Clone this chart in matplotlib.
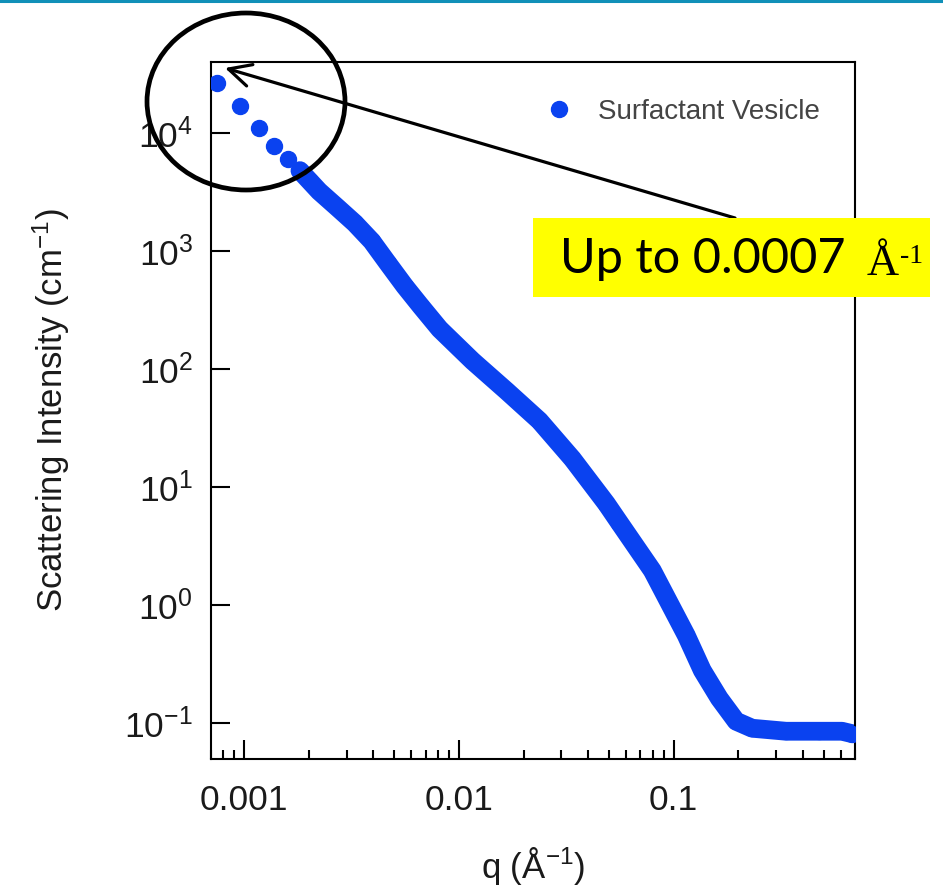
import numpy as np
import matplotlib
matplotlib.use('Agg')
import matplotlib.pyplot as plt
from matplotlib.patches import Ellipse, Rectangle
from matplotlib.lines import Line2D
from matplotlib.ticker import LogLocator, NullLocator, NullFormatter, FixedLocator, FixedFormatter

plt.rcParams['font.family'] = ['Liberation Sans', 'DejaVu Sans']
plt.rcParams['mathtext.default'] = 'regular'

# q (1/A) and intensity (1/cm)
q = [0.000744, 0.000955, 0.00117, 0.001379, 0.001603, 0.001817, 0.00202, 0.002234,
     0.002729, 0.003273, 0.003926, 0.00466, 0.00559, 0.006636, 0.008133, 0.01158,
     0.01667, 0.02373, 0.03379, 0.04864, 0.0559, 0.0796, 0.1146, 0.136, 0.1632,
     0.1957, 0.2323, 0.3342, 0.4766, 0.609, 0.6776]
intensity = [26800, 16800, 11000, 7820, 6030, 4810, 3910, 3210,
             2323, 1725, 1215, 792, 506, 343, 219, 117.5,
             65.5, 36.6, 17.4, 7.27, 5.02, 1.972, 0.5566, 0.2817, 0.1633,
             0.1044, 0.0911, 0.0859, 0.0859, 0.0859, 0.082]
dense_from = 5   # from here on the points overlap into a band

xticks = [0.001, 0.01, 0.1]
xticklabels = ['0.001', '0.01', '0.1']

blue = '#0a42f0'
W, H = 943, 889

fig = plt.figure(figsize=(W / 100, H / 100), dpi=100)
ax = fig.add_axes([211 / W, 1 - 759 / H, (855 - 211) / W, (759 - 62) / H])

ax.plot(q[dense_from:], intensity[dense_from:], color=blue, lw=13.5,
        solid_capstyle='round', solid_joinstyle='round', zorder=2)
ax.plot(q, intensity, 'o', color=blue, ms=11.5, mec=blue, zorder=3,
        label='Surfactant Vesicle')

ax.set_xscale('log')
ax.set_yscale('log')
ax.set_xlim(0.0007, 0.7)
ax.set_ylim(0.05, 4e4)

ax.xaxis.set_major_locator(FixedLocator(xticks))
ax.xaxis.set_major_formatter(FixedFormatter(xticklabels))
ax.xaxis.set_minor_locator(LogLocator(base=10, subs=np.arange(2, 10)))
ax.xaxis.set_minor_formatter(NullFormatter())
ax.yaxis.set_minor_locator(NullLocator())

ax.tick_params(which='major', direction='in', length=13.5, width=1.5,
               labelsize=25.5, labelcolor='#1a1a1a', top=False, right=False)
ax.tick_params(which='minor', direction='in', length=6.5, width=1.5,
               top=False, right=False)
ax.tick_params(axis='x', which='major', pad=18)
ax.tick_params(axis='y', which='major', pad=13)
for s in ax.spines.values():
    s.set_linewidth(1.5)

ax.set_xlabel('q (Å$^{-1}$)', fontsize=25, color='#1a1a1a', labelpad=20)
ax.set_ylabel('Scattering Intensity (cm$^{-1}$)', fontsize=25, color='#1a1a1a', labelpad=38)

ax.legend(loc='center left', bbox_to_anchor=(531 / W, 1 - 112 / H),
          bbox_transform=fig.transFigure, frameon=False, borderpad=0,
          handlelength=1.0, handletextpad=0.9, fontsize=20,
          labelcolor='#444444', numpoints=1)

# slide decorations: top rule, circle, arrow and yellow note
fig.add_artist(Line2D([0, 1], [1 - 1.2 / H, 1 - 1.2 / H], color='#1090b8', lw=2.2,
                      transform=fig.transFigure))
fig.add_artist(Ellipse((246 / W, 1 - 101.5 / H), 198 / W, 177 / H, fill=False,
                       ec='black', lw=3.4, transform=fig.transFigure, zorder=5))
fig.add_artist(Rectangle((533 / W, 1 - 297 / H), 397 / W, 79 / H, fc='#ffff00',
                         ec='none', transform=fig.transFigure, zorder=4))
ax.annotate('', xy=(225, H - 68), xycoords='figure pixels',
            xytext=(735, H - 218), textcoords='figure pixels',
            arrowprops=dict(arrowstyle='->', lw=2.3, color='black',
                            mutation_scale=40, shrinkA=0, shrinkB=0),
            zorder=6)
fig.text(560 / W, 1 - 273 / H, 'Up to 0.0007', fontfamily='Lato', fontsize=35,
         va='baseline', ha='left', zorder=6)
fig.text(867 / W, 1 - 275 / H, 'Å', fontfamily='Liberation Serif', fontsize=32,
         va='baseline', ha='left', zorder=6)
fig.text(900 / W, 1 - 263 / H, '-1', fontfamily='Liberation Serif', fontsize=20,
         va='baseline', ha='left', zorder=6)

fig.savefig('out.png', dpi=100)
